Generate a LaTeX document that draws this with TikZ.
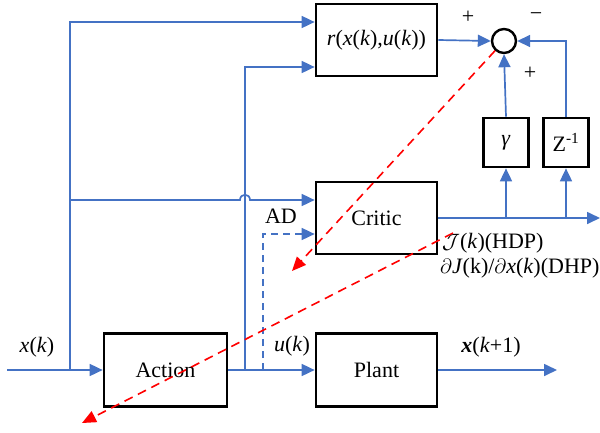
\documentclass[tikz,border=0pt]{standalone}
\usepackage{fontspec}
\setmainfont{Liberation Serif}
\usetikzlibrary{arrows.meta}
\definecolor{wireblue}{RGB}{68,114,196}
\begin{document}
\begin{tikzpicture}[x=1pt,y=-1pt,
  font=\fontsize{22}{26}\selectfont,
  blk/.style={draw=black,line width=2.7pt,minimum width=121pt,minimum height=72pt,inner sep=0pt},
  sblk/.style={draw=black,line width=2.7pt,minimum width=45pt,minimum height=49pt,inner sep=0pt},
  wire/.style={draw=wireblue,line width=1.7pt},
  arr/.style={wire,-{Triangle[length=13pt,width=12pt]}},
  darr/.style={arr,dash pattern=on 7pt off 5pt},
  redarr/.style={draw=red,line width=1.6pt,dash pattern=on 9pt off 6pt,-{Triangle[length=14pt,width=12pt]}},
  lbl/.style={inner sep=0pt}]
\useasboundingbox (0,0) rectangle (600,432);

% blocks
\node[blk] (r) at (376.5,40) {\textit{r}(\textit{x}(\textit{k}),\textit{u}(\textit{k}))};
\node[blk] (critic) at (376.5,218) {Critic};
\node[blk,minimum width=123pt,minimum height=73pt] (act) at (165.5,370) {Action};
\node[blk,minimum height=73pt] (plant) at (376.5,370) {Plant};
\node[sblk] (gam) at (506,142.5) {\textit{γ}};
\node[sblk] (zinv) at (566,142.5) {Z\textsuperscript{-1}};
\node[draw=black,line width=2.4pt,circle,minimum size=24pt,inner sep=0pt] (sum) at (504,41) {};

% branch points
\coordinate (in) at (7,370);
\coordinate (s1) at (70,370);
\coordinate (s2) at (70,200);
\coordinate (s3) at (245,370);
\coordinate (s4) at (263,370);
\coordinate (cout) at (600,218);
\coordinate (g1) at (506,218);
\coordinate (z1) at (566,218);
\coordinate (pout) at (557,370);
\coordinate (hopa) at (240,200);
\coordinate (hopb) at (250,200);

% signal path
\draw[arr] (in) -- (act.west);
\draw[arr] (act.east) -- (plant.west);
\draw[arr] (plant.east) -- (pout);
\draw[arr] (s1) |- ([yshift=18pt]r.west);
\draw[arr] (s2) -- (hopa) .. controls (240,193) and (250,193) .. (hopb) -- ([yshift=18pt]critic.west);
\draw[arr] (s3) |- ([yshift=-27pt]r.west);
\draw[darr] (s4) |- ([yshift=-16pt]critic.west);

% critic feedback loop
\draw[arr] (critic.east) -- (cout);
\draw[arr] (g1) -- (gam.south);
\draw[arr] (z1) -- (zinv.south);
\draw[arr] (r.east) -- (sum.west);
\draw[arr] (gam.north) -- (sum.south);
\draw[arr] (zinv.north) |- (sum.east);

% error back-propagation
\coordinate (t1) at (292,271);
\coordinate (r2s) at (453,233);
\coordinate (t2) at (82,423);
\draw[redarr] (sum) -- (t1);
\draw[redarr] (r2s) -- (t2);

% labels
\node[lbl] (p1) at (468,17) {+};
\node[lbl] (m1) at (536,17) {−};
\node[lbl] (p2) at (530,73) {+};
\node[lbl] (xk) at (37,347) {\textit{x}(\textit{k})};
\node[lbl] (uk) at (292,346) {\textit{u}(\textit{k})};
\node[lbl] (ad) at (281,216) {AD};
\node[lbl] (xk1) at (491,347) {\textbf{\textit{x}}(\textit{k}+1)};
\node[lbl,anchor=west] (hdp) at (442,243) {$\mathcal{J}$(\textit{k})(HDP)};
\node[lbl,anchor=west] (dhp) at (440,268) {$\partial$\textit{J}(k)/$\partial$\textit{x}(\textit{k})(DHP)};
\end{tikzpicture}
\end{document}
